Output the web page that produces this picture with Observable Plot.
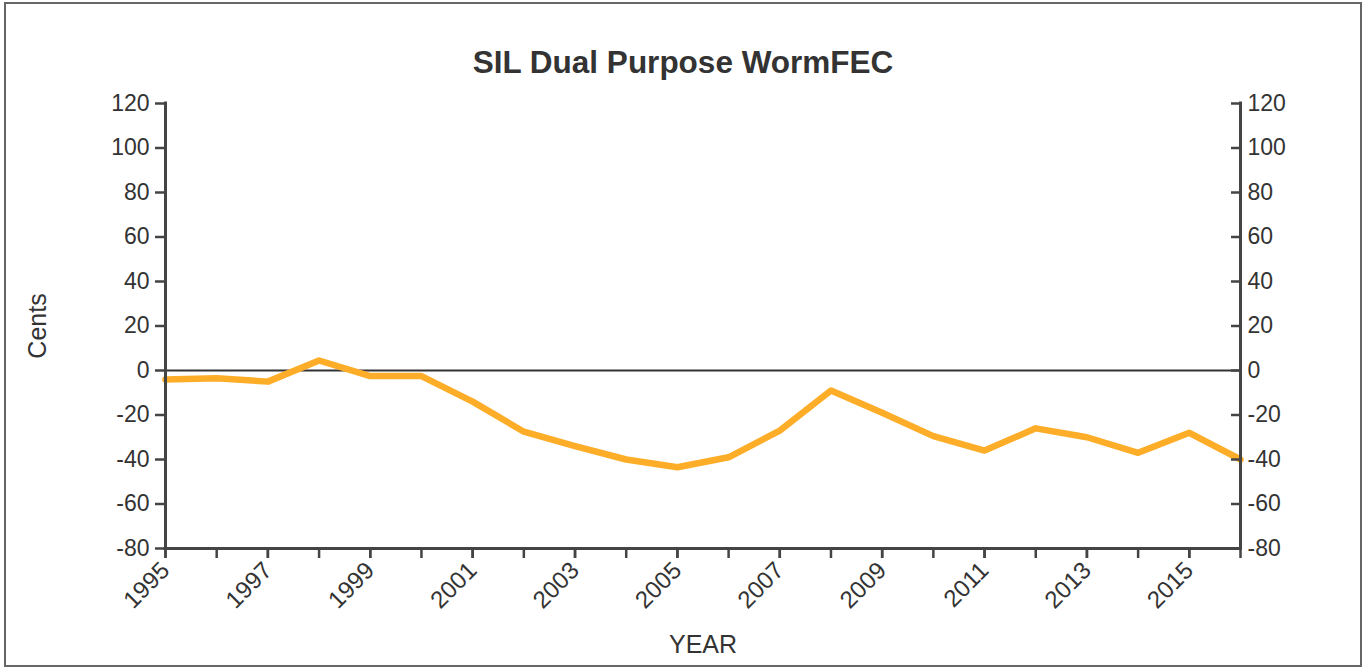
<!DOCTYPE html>
<html><head><meta charset="utf-8">
<script src="https://cdn.jsdelivr.net/npm/d3@7"></script>
<script src="https://cdn.jsdelivr.net/npm/@observablehq/plot@0.6"></script>
<style>
body{margin:0;background:#fff;font-family:"Liberation Sans",Arial,sans-serif;}
#frame{position:absolute;left:4px;top:2px;width:1354px;height:661px;border:2px solid #666;}
#title{position:absolute;left:0;top:44px;width:1366px;text-align:center;font-weight:bold;font-size:31.5px;color:#333;}
#chart{position:absolute;left:0;top:80px;}
</style></head><body>
<div id="frame"></div>
<div id="title">SIL Dual Purpose WormFEC</div>
<div id="chart"></div>
<script>
const years = [1995,1996,1997,1998,1999,2000,2001,2002,2003,2004,2005,2006,2007,2008,2009,2010,2011,2012,2013,2014,2015,2016];
const cents = [-4,-3.5,-5,4.5,-2.5,-2.5,-14,-27.5,-34,-40,-43.5,-39,-27,-9,-19,-29.5,-36,-26,-30,-37,-28,-40];
const yTicks = [-80,-60,-40,-20,0,20,40,60,80,100,120];
const xLabelYears = [1995,1997,1999,2001,2003,2005,2007,2009,2011,2013,2015];
const xDomain = [1995, 2016];
const yDomain = [-80, 120];

const data = years.map((year, i) => ({year, cents: cents[i]}));
const axisColor = "#444";
const fmt = d => String(d);

const plot = Plot.plot({
  width: 1366, height: 588,
  marginTop: 23, marginBottom: 120, marginLeft: 165, marginRight: 126,
  style: {fontFamily: "'Liberation Sans', Arial, sans-serif", fontSize: "22px", color: "#333", background: "transparent", overflow: "visible"},
  x: {domain: xDomain},
  y: {domain: yDomain},
  marks: [
    Plot.ruleY([0], {stroke: "#333", strokeWidth: 2}),
    Plot.lineY(data, {x: "year", y: "cents", stroke: "#FDAD28", strokeWidth: 6.5}),
    Plot.ruleX(xDomain, {stroke: axisColor, strokeWidth: 3, strokeLinecap: "square"}),
    Plot.ruleY([yDomain[0]], {stroke: axisColor, strokeWidth: 3, strokeLinecap: "square"}),
    Plot.axisY({anchor: "left", ticks: yTicks, tickFormat: fmt, tickSize: 10, tickPadding: 6, stroke: axisColor, strokeWidth: 2.5, fontSize: 23, label: null}),
    Plot.axisY({anchor: "left", ticks: [], label: "Cents", labelArrow: "none", labelAnchor: "center", labelOffset: 137, fontSize: 25}),
    Plot.axisY({anchor: "right", ticks: yTicks, tickFormat: fmt, tickSize: -10, tickPadding: 17, stroke: axisColor, strokeWidth: 2.5, fontSize: 23, label: null}),
    Plot.axisX({ticks: years, tickFormat: () => "", tickSize: 10, stroke: axisColor, strokeWidth: 2.5, label: null}),
    Plot.axisX({ticks: xLabelYears, tickFormat: fmt, tickRotate: -45, tickSize: 10, tickPadding: 8, stroke: axisColor, strokeWidth: 2.5, fontSize: 24, label: null}),
    Plot.axisX({ticks: [], label: "YEAR", labelArrow: "none", labelAnchor: "center", labelOffset: 104, fontSize: 25})
  ]
});
document.getElementById("chart").appendChild(plot);
</script>
</body></html>
